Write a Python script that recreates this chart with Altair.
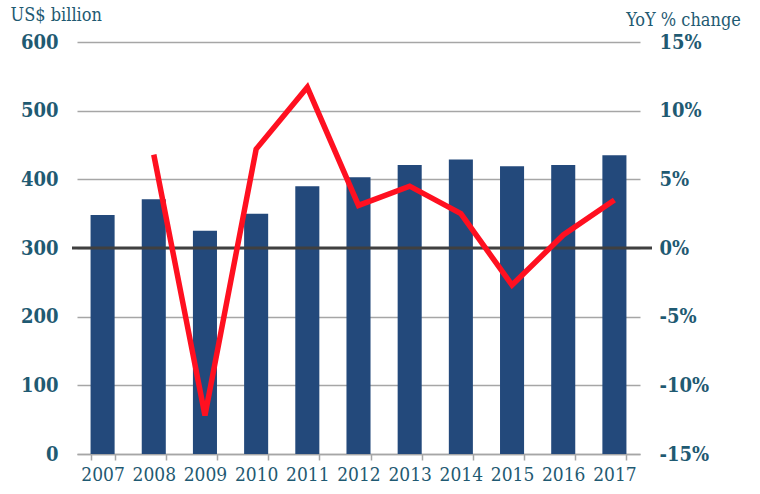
import altair as alt
import pandas as pd

years = [str(y) for y in range(2007, 2018)]
values = [348, 371, 325, 350, 390, 403, 421, 429, 419, 421, 435]
yoy_years = years[1:]
yoy_pct = [6.8, -12.2, 7.2, 11.7, 3.1, 4.5, 2.5, -2.7, 0.95, 3.5]
left_ticks = [0, 100, 200, 300, 400, 500, 600]
right_ticks = [-15, -10, -5, 0, 5, 10, 15]

bars_df = pd.DataFrame({"year": years, "value": values})
line_df = pd.DataFrame({"year": yoy_years, "yoy": yoy_pct})
ref_df = pd.DataFrame({"ref": [300]})

FONT = "DejaVu Serif Condensed"
TXT = "#1f5a72"
GRID = "#a6a6a6"

xenc = alt.X(
    "year:N", sort=years,
    scale=alt.Scale(domain=years, paddingInner=0.53, paddingOuter=0.265),
    axis=alt.Axis(title=None, labelAngle=0, labelFont=FONT, labelFontSize=19,
                  labelColor=TXT, domainColor=GRID, domainWidth=1.5,
                  tickColor=GRID, tickSize=6, tickWidth=1.5, tickBand="extent",
                  labelPadding=5, grid=False),
)

bars = alt.Chart(bars_df).mark_bar(color="#23497b").encode(
    x=xenc,
    y=alt.Y("value:Q", scale=alt.Scale(domain=[0, 600], nice=False),
            axis=alt.Axis(orient="left", values=left_ticks, title="US$ billion",
                          titleAngle=0, titleX=-67, titleY=-27, titleAlign="left",
                          titleBaseline="middle", titleFont=FONT, titleFontSize=18,
                          titleFontWeight="normal", titleColor=TXT,
                          labelFont=FONT, labelFontSize=20, labelFontWeight="bold",
                          labelColor=TXT, labelPadding=19, ticks=False, domain=False,
                          grid=True, gridColor=GRID, gridWidth=1.5)),
)

rule = alt.Chart(ref_df).mark_rule(color="#404040", strokeWidth=3).encode(
    y=alt.Y("ref:Q", scale=alt.Scale(domain=[0, 600], nice=False), axis=None),
    x=alt.value(-5),
    x2=alt.value(575),
)

line = alt.Chart(line_df).mark_line(color="#ff1020", strokeWidth=5.5).encode(
    x=xenc,
    y=alt.Y("yoy:Q", scale=alt.Scale(domain=[-15, 15], nice=False),
            axis=alt.Axis(orient="right", values=right_ticks, title="YoY % change",
                          titleAngle=0, titleX=43, titleY=-22, titleAlign="center",
                          titleBaseline="middle", titleFont=FONT, titleFontSize=18,
                          titleFontWeight="normal", titleColor=TXT,
                          labelFont=FONT, labelFontSize=20, labelFontWeight="bold",
                          labelColor=TXT, labelPadding=19, ticks=False, domain=False,
                          grid=False, labelExpr="datum.value + '%'")),
)

chart = alt.layer(bars, rule, line).resolve_scale(y="independent").properties(
    width=563, height=412,
    background="white",
    autosize=alt.AutoSizeParams(type="none"),
    padding={"left": 77, "top": 42, "right": 120, "bottom": 40},
).configure_view(strokeWidth=0, stroke="transparent").configure_axisX(grid=False)

chart.save("out.html", embed_options={"renderer": "svg", "actions": False})
